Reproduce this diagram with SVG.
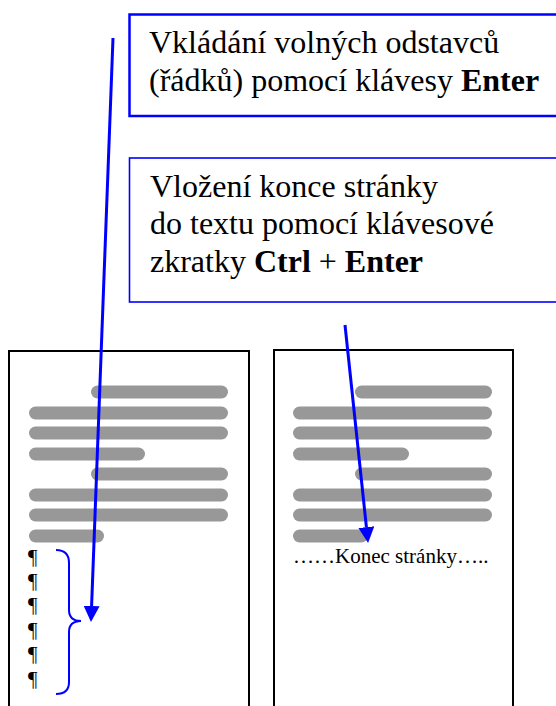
<svg xmlns="http://www.w3.org/2000/svg" width="556" height="706" viewBox="0 0 556 706">
  <style>
    .callout { fill: #ffffff; stroke: #0000ff; }
    .label { font-size: 32px; fill: #000000; }
    .b { font-weight: bold; }
    .page { fill: #ffffff; stroke: #000000; stroke-width: 2; }
    .bar { stroke: #989898; stroke-width: 13; stroke-linecap: round; fill: none; }
    .pil { font-size: 21px; fill: #000000; }
    .brk { font-size: 21px; fill: #000000; }
    .conn { stroke: #0000ff; stroke-width: 3; fill: none; }
    .brace { stroke: #0000ff; stroke-width: 2; fill: none; }
  </style>
  <defs>
    <marker id="head" markerUnits="userSpaceOnUse" markerWidth="16" markerHeight="16" refX="0" refY="8" orient="auto">
      <path d="M0,0 L16,8 L0,16 z" fill="#0000ff"/>
    </marker>
    <!-- grey placeholder lines of body text on a page -->
    <g id="page-lines">
      <line class="bar" x1="97.5" y1="392" x2="221.5" y2="392"/>
      <line class="bar" x1="35.5" y1="413" x2="221.5" y2="413"/>
      <line class="bar" x1="35.5" y1="433" x2="221.5" y2="433"/>
      <line class="bar" x1="35.5" y1="454" x2="138.5" y2="454"/>
      <line class="bar" x1="97.5" y1="474" x2="221.5" y2="474"/>
      <line class="bar" x1="35.5" y1="495" x2="221.5" y2="495"/>
      <line class="bar" x1="35.5" y1="515" x2="221.5" y2="515"/>
      <line class="bar" x1="35.5" y1="536" x2="97.5" y2="536"/>
    </g>
  </defs>

  <rect width="556" height="706" fill="#ffffff"/>

  <g font-family="'Liberation Serif', 'Times New Roman', serif">
    <!-- callout: empty paragraphs -->
    <g id="note-enter">
      <rect class="callout" x="129.5" y="14.5" width="440" height="101.5" stroke-width="2.5"/>
      <text class="label" x="149" y="53">Vkládání volných odstavců</text>
      <text class="label" x="149" y="91">(řádků) pomocí klávesy <tspan class="b">Enter</tspan></text>
    </g>

    <!-- callout: page break -->
    <g id="note-ctrl-enter">
      <rect class="callout" x="129.5" y="158" width="440" height="144" stroke-width="1.6"/>
      <text class="label" x="150" y="197">Vložení konce stránky</text>
      <text class="label" x="150" y="234">do textu pomocí klávesové</text>
      <text class="label" x="150" y="272">zkratky <tspan class="b">Ctrl</tspan> + <tspan class="b">Enter</tspan></text>
    </g>

    <!-- left page: text followed by empty paragraphs -->
    <g id="page-left">
      <rect class="page" x="9" y="351" width="240" height="380"/>
      <use href="#page-lines"/>
      <text class="pil" x="28" y="564">¶</text>
      <text class="pil" x="28" y="588">¶</text>
      <text class="pil" x="28" y="612">¶</text>
      <text class="pil" x="28" y="637">¶</text>
      <text class="pil" x="28" y="661">¶</text>
      <text class="pil" x="28" y="686">¶</text>
      <path class="brace" d="M56,550 C64,550 69,554 69,563 L69,610 C69,617 73,621 81,621 C73,621 69,625 69,632 L69,682 C69,690 64,694 56,694"/>
    </g>

    <!-- right page: text followed by a page break -->
    <g id="page-right">
      <rect class="page" x="274" y="350" width="239" height="380"/>
      <use href="#page-lines" x="264"/>
      <text class="brk" x="293" y="563">……Konec stránky…..</text>
    </g>
  </g>

  <g id="connectors">
    <path class="conn" d="M113,38 L91.6,606" marker-end="url(#head)"/>
    <path class="conn" d="M345,325 L366.4,527.1" marker-end="url(#head)"/>
  </g>
</svg>
